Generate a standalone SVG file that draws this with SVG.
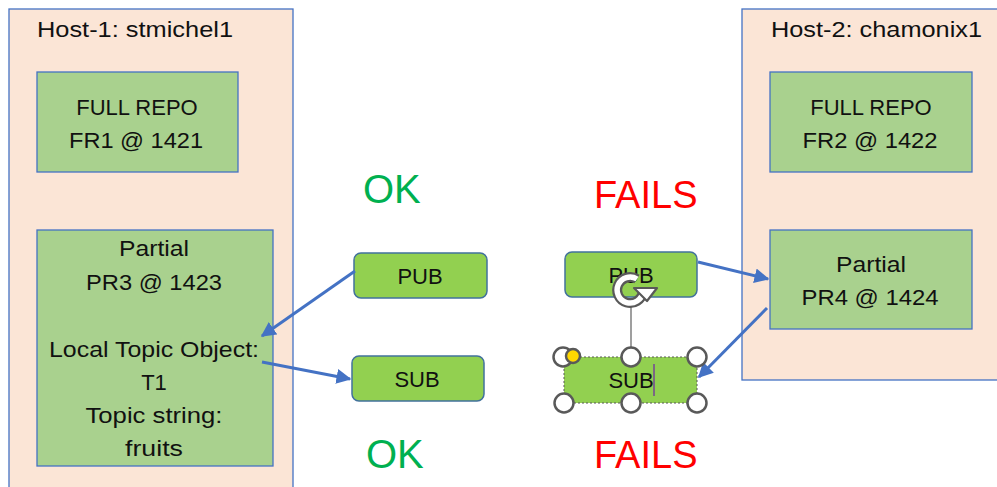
<svg xmlns="http://www.w3.org/2000/svg" width="997" height="487" viewBox="0 0 997 487">
<defs>
<style>
text{font-family:"Liberation Sans",Arial,sans-serif;fill:#111;}
.host{fill:#fbe5d6;stroke:#4472c4;stroke-width:1.3;}
.repo{fill:#a9d18e;stroke:#4472c4;stroke-width:1.3;}
.btn{fill:#92d050;stroke:#41719c;stroke-width:1.5;}
.lbl{font-size:22px;text-anchor:middle;}
.ok{font-size:40px;fill:#00b050;}
.fail{font-size:38px;fill:#ff0000;}
.conn{stroke:#4472c4;stroke-width:3;fill:none;marker-end:url(#ah);}
.hdl{fill:#fff;stroke:#595959;stroke-width:2.5;}
</style>
<marker id="ah" viewBox="0 0 10 10" refX="9" refY="5" markerWidth="5" markerHeight="5" orient="auto" markerUnits="strokeWidth">
<path d="M0,0 L10,5 L0,10 z" fill="#4472c4"/>
</marker>
</defs>
<rect width="997" height="487" fill="#fff"/>

<g id="host1">
<rect class="host" x="9" y="9" width="284" height="490"/>
<text x="37" y="37" font-size="22" textLength="196" lengthAdjust="spacingAndGlyphs">Host-1: stmichel1</text>
</g>
<g id="host2">
<rect class="host" x="742" y="9" width="265" height="371"/>
<text x="771" y="37" font-size="22" textLength="211" lengthAdjust="spacingAndGlyphs">Host-2: chamonix1</text>
</g>

<g id="fr1">
<rect class="repo" x="37" y="72" width="201" height="100"/>
<text class="lbl" x="137" y="115">FULL REPO</text>
<text class="lbl" x="136" y="148" textLength="134" lengthAdjust="spacingAndGlyphs">FR1 @ 1421</text>
</g>
<g id="pr3">
<rect class="repo" x="37" y="230" width="236" height="236"/>
<text class="lbl" x="154" y="256" textLength="70" lengthAdjust="spacingAndGlyphs">Partial</text>
<text class="lbl" x="154" y="290" textLength="136" lengthAdjust="spacingAndGlyphs">PR3 @ 1423</text>
<text class="lbl" x="154" y="357" textLength="210" lengthAdjust="spacingAndGlyphs">Local Topic Object:</text>
<text class="lbl" x="154" y="390">T1</text>
<text class="lbl" x="154" y="423" textLength="137" lengthAdjust="spacingAndGlyphs">Topic string:</text>
<text class="lbl" x="154" y="456" textLength="58" lengthAdjust="spacingAndGlyphs">fruits</text>
</g>
<g id="fr2">
<rect class="repo" x="770" y="72" width="202" height="100"/>
<text class="lbl" x="871" y="115">FULL REPO</text>
<text class="lbl" x="870" y="148" textLength="135" lengthAdjust="spacingAndGlyphs">FR2 @ 1422</text>
</g>
<g id="pr4">
<rect class="repo" x="770" y="230" width="202" height="99"/>
<text class="lbl" x="871" y="272" textLength="70" lengthAdjust="spacingAndGlyphs">Partial</text>
<text class="lbl" x="870" y="305" textLength="137" lengthAdjust="spacingAndGlyphs">PR4 @ 1424</text>
</g>

<g id="pub1">
<rect class="btn" x="354" y="253" width="133" height="45" rx="7"/>
<text class="lbl" x="420" y="284">PUB</text>
</g>
<g id="sub1">
<rect class="btn" x="352" y="356" width="132" height="45" rx="7"/>
<text class="lbl" x="417" y="387">SUB</text>
</g>
<g id="pub2">
<rect class="btn" x="565" y="252" width="132" height="45" rx="7"/>
<text class="lbl" x="631" y="283">PUB</text>
</g>
<g id="sub2">
<rect x="564" y="357" width="133" height="46" fill="#92d050"/>
<rect x="564" y="357" width="133" height="46" fill="none" stroke="#595959" stroke-width="1" stroke-dasharray="2,2"/>
<text class="lbl" x="631" y="388">SUB</text>
<line x1="654" y1="364" x2="654" y2="396" stroke="#7030a0" stroke-width="1.3"/>
</g>

<g id="labels">
<text class="ok" x="363" y="203">OK</text>
<text class="ok" x="366" y="468">OK</text>
<text class="fail" x="594" y="208">FAILS</text>
<text class="fail" x="594" y="468">FAILS</text>
</g>

<g id="connectors">
<line class="conn" x1="355" y1="271" x2="262" y2="336"/>
<line class="conn" x1="262" y1="362" x2="350" y2="379"/>
<line class="conn" x1="698" y1="262" x2="768" y2="279"/>
<line class="conn" x1="767" y1="308" x2="699" y2="377"/>
</g>

<g id="selection">
<line x1="631" y1="306" x2="631" y2="348" stroke="#7f7f7f" stroke-width="1.5"/>
<path d="M643,292 A13,13 0 1 1 637,279" fill="none" stroke="#595959" stroke-width="10"/>
<path d="M643,292 A13,13 0 1 1 637,279" fill="none" stroke="#fff" stroke-width="5.5"/>
<path d="M634,288 L657,288 L647,301 z" fill="#fff" stroke="#595959" stroke-width="2.2" stroke-linejoin="round"/>
<circle class="hdl" cx="563" cy="357" r="9.5"/>
<circle cx="573" cy="356" r="7" fill="#ffd700" stroke="#595959" stroke-width="2.5"/>
<circle class="hdl" cx="631" cy="357" r="9.5"/>
<circle class="hdl" cx="697" cy="357" r="9.5"/>
<circle class="hdl" cx="564" cy="403" r="9.5"/>
<circle class="hdl" cx="631" cy="403" r="9.5"/>
<circle class="hdl" cx="697" cy="403" r="9.5"/>
</g>
</svg>
